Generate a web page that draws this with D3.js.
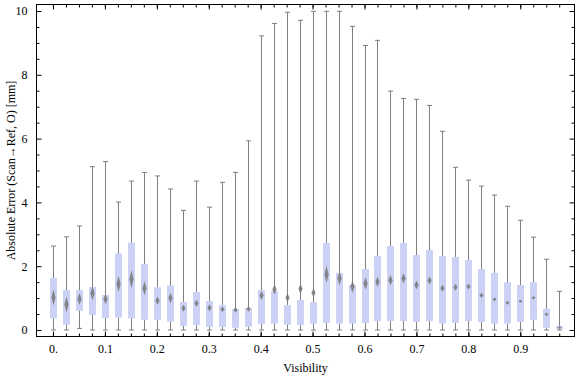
<!DOCTYPE html>
<html>
<head>
<meta charset="utf-8">
<title>Visibility box whisker</title>
<script src="https://d3js.org/d3.v7.min.js"></script>
<style>
body { margin: 0; background: #fff; }
text { font-family: "Liberation Serif", "Times New Roman", serif; }
.axis path { stroke: none; }
.axis line { stroke: #000; }
</style>
</head>
<body>
<div id="chart"></div>
<script>
// bin centres (visibility)
var visibility = [0, 0.025, 0.05, 0.075, 0.1, 0.125, 0.15, 0.175, 0.2, 0.225,
                  0.25, 0.275, 0.3, 0.325, 0.35, 0.375, 0.4, 0.425, 0.45, 0.475,
                  0.5, 0.525, 0.55, 0.575, 0.6, 0.625, 0.65, 0.675, 0.7, 0.725,
                  0.75, 0.775, 0.8, 0.825, 0.85, 0.875, 0.9, 0.925, 0.95, 0.975];
var whiskerHi = [2.63, 2.92, 3.26, 5.12, 5.28, 4.01, 4.67, 4.94, 4.83, 4.42,
                 3.75, 4.67, 3.85, 4.63, 4.94, 5.93, 9.22, 9.61, 9.96, 9.71,
                 9.99, 9.99, 9.99, 9.52, 8.92, 9.08, 7.49, 7.26, 7.23, 7.04,
                 6.23, 5.10, 4.70, 4.51, 4.23, 3.88, 3.44, 2.91, 2.22, 1.21];
var whiskerLo = [0, 0, 0.05, 0, 0, 0, 0, 0, 0, 0,
                 0, 0, 0, 0, 0, 0, 0, 0, 0, 0,
                 0, 0, 0, 0, 0, 0, 0, 0, 0, 0,
                 0, 0, 0, 0, 0, 0, 0, 0, 0, 0];
var q3 = [1.63, 1.25, 1.25, 1.35, 1.10, 2.40, 2.74, 2.07, 1.34, 1.40,
          0.88, 1.19, 0.91, 0.78, 0.65, 0.69, 1.25, 1.22, 0.78, 0.94,
          0.87, 2.73, 1.79, 1.41, 1.91, 2.32, 2.63, 2.73, 2.35, 2.51,
          2.32, 2.29, 2.19, 1.91, 1.79, 1.50, 1.41, 1.50, 0.66, 0.13];
var q1 = [0.36, 0.16, 0.60, 0.47, 0.37, 0.39, 0.36, 0.32, 0.32, 0.26,
          0.13, 0.16, 0.10, 0.10, 0.07, 0.10, 0.18, 0.20, 0.16, 0.16,
          0.20, 0.22, 0.20, 0.20, 0.22, 0.28, 0.28, 0.28, 0.25, 0.28,
          0.20, 0.22, 0.28, 0.25, 0.20, 0.20, 0.25, 0.32, 0.07, 0.03];
var median = [1.02, 0.80, 0.97, 1.15, 0.97, 1.44, 1.59, 1.31, 0.92, 1.00,
              0.68, 0.84, 0.70, 0.65, 0.63, 0.66, 1.08, 1.27, 1.01, 1.29,
              1.17, 1.74, 1.62, 1.36, 1.46, 1.51, 1.56, 1.62, 1.41, 1.55,
              1.31, 1.34, 1.36, 1.09, 0.96, 0.85, 0.90, 1.01, 0.49, 0.08];
// half height of the median notch
var notch = [0.25, 0.25, 0.19, 0.22, 0.16, 0.25, 0.28, 0.22, 0.13, 0.16,
             0.11, 0.11, 0.11, 0.09, 0.09, 0.09, 0.14, 0.16, 0.14, 0.16,
             0.14, 0.27, 0.22, 0.19, 0.19, 0.16, 0.16, 0.16, 0.13, 0.13,
             0.11, 0.11, 0.09, 0.08, 0.06, 0.06, 0.05, 0.05, 0.05, 0.03];

var xTicks = [0, 0.1, 0.2, 0.3, 0.4, 0.5, 0.6, 0.7, 0.8, 0.9];
var xTickLabels = ["0.", "0.1", "0.2", "0.3", "0.4", "0.5", "0.6", "0.7", "0.8", "0.9"];
var yTicks = [0, 2, 4, 6, 8, 10];
var yMinor = [0.5, 1, 1.5, 2.5, 3, 3.5, 4.5, 5, 5.5, 6.5, 7, 7.5, 8.5, 9, 9.5];

var W = 576, H = 377,
    fL = 36, fR = 575, fT = 4, fB = 337;

var svg = d3.select("#chart").append("svg")
    .attr("width", W).attr("height", H);

var x = d3.scaleLinear().domain([-0.0327, 1.0054]).range([fL, fR]);
var y = d3.scaleLinear().domain([-0.22, 10.22]).range([fB, fT]);

var defs = svg.append("defs");
defs.append("filter").attr("id", "soft")
    .attr("x", "-50%").attr("y", "-50%").attr("width", "200%").attr("height", "200%")
  .append("feGaussianBlur").attr("stdDeviation", 0.7);

var rows = visibility.map(function(v, i) {
  return {v: v, lo: whiskerLo[i], hi: whiskerHi[i], q1: q1[i], q3: q3[i], med: median[i], n: notch[i]};
});

var boxW = 7, capW = 5, dW = 2.1;
var g = svg.append("g");

function cx(d) { return Math.round(x(d.v)) + 0.5; }

// whiskers
g.selectAll(".whisker").data(rows).enter().append("line")
    .attr("x1", cx).attr("x2", cx)
    .attr("y1", function(d) { return y(d.lo); })
    .attr("y2", function(d) { return y(d.hi); })
    .attr("stroke", "#7f7f7f").attr("stroke-width", 1);

["hi", "lo"].forEach(function(k) {
  g.selectAll(".cap" + k).data(rows).enter().append("line")
      .attr("x1", function(d) { return cx(d) - capW / 2; })
      .attr("x2", function(d) { return cx(d) + capW / 2; })
      .attr("y1", function(d) { return y(d[k]); })
      .attr("y2", function(d) { return y(d[k]); })
      .attr("stroke", "#7f7f7f").attr("stroke-width", 1);
});

// boxes
g.selectAll(".box").data(rows).enter().append("rect")
    .attr("x", function(d) { return cx(d) - boxW / 2; })
    .attr("width", boxW)
    .attr("y", function(d) { return y(d.q3); })
    .attr("height", function(d) { return y(d.q1) - y(d.q3); })
    .attr("fill", "#cbd2f5");

// median diamonds
g.selectAll(".med").data(rows).enter().append("path")
    .attr("d", function(d) {
      var px = cx(d), py = y(d.med),
          h = Math.max(y(d.med - d.n) - py, 1.5);
      return "M" + px + "," + (py - h) + "L" + (px + dW) + "," + py +
             "L" + px + "," + (py + h) + "L" + (px - dW) + "," + py + "Z";
    })
    .attr("fill", "#777")
    .attr("fill-opacity", 0.85)
    .attr("filter", "url(#soft)");

// frame
svg.append("rect")
    .attr("x", fL + 0.5).attr("y", fT + 0.5)
    .attr("width", fR - fL - 1).attr("height", fB - fT - 1)
    .attr("fill", "none").attr("stroke", "#000").attr("stroke-width", 1);

function fmtX(d) { return xTickLabels[xTicks.indexOf(d)]; }

var ax = [
  [d3.axisBottom(x).tickValues(xTicks).tickSize(-5).tickPadding(8).tickFormat(fmtX), "translate(0," + (fB - 0.5) + ")"],
  [d3.axisBottom(x).tickValues(visibility).tickSize(-3).tickFormat(""), "translate(0," + (fB - 0.5) + ")"],
  [d3.axisTop(x).tickValues(xTicks).tickSize(-5).tickFormat(""), "translate(0," + (fT + 0.5) + ")"],
  [d3.axisTop(x).tickValues(visibility).tickSize(-3).tickFormat(""), "translate(0," + (fT + 0.5) + ")"],
  [d3.axisLeft(y).tickValues(yTicks).tickSize(-5).tickPadding(9).tickFormat(d3.format("d")), "translate(" + (fL + 0.5) + ",0)"],
  [d3.axisLeft(y).tickValues(yMinor).tickSize(-3).tickFormat(""), "translate(" + (fL + 0.5) + ",0)"],
  [d3.axisRight(y).tickValues(yTicks).tickSize(-5).tickFormat(""), "translate(" + (fR - 0.5) + ",0)"],
  [d3.axisRight(y).tickValues(yMinor).tickSize(-3).tickFormat(""), "translate(" + (fR - 0.5) + ",0)"]
];
ax.forEach(function(a) {
  svg.append("g").attr("class", "axis").attr("transform", a[1]).call(a[0])
    .selectAll("text").attr("font-size", 12).attr("fill", "#000")
    .style("font-family", "'Liberation Serif', 'Times New Roman', serif");
});

// axis labels
svg.append("text")
    .attr("x", (fL + fR) / 2).attr("y", 372)
    .attr("text-anchor", "middle").attr("font-size", 12)
    .text("Visibility");
svg.append("text")
    .attr("transform", "translate(15," + ((fT + fB) / 2) + ") rotate(-90)")
    .attr("text-anchor", "middle").attr("font-size", 12)
    .text("Absolute Error (Scan\u2192Ref, O) [mm]");
</script>
</body>
</html>
